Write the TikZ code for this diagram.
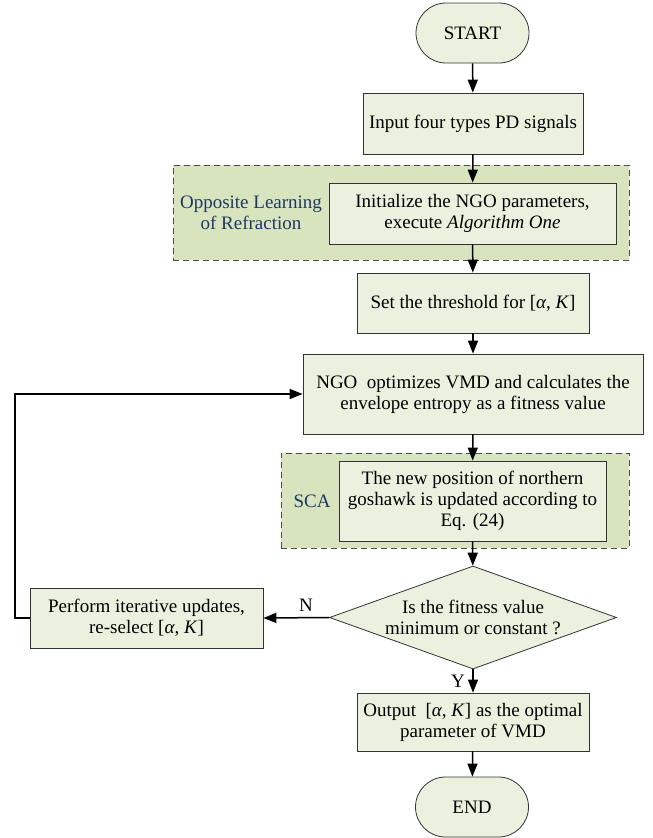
\documentclass[tikz,border=0pt]{standalone}
\usepackage{fontspec}
\setmainfont{Liberation Serif}
\usetikzlibrary{shapes.geometric,arrows.meta}
\definecolor{boxfill}{RGB}{235,241,222}
\definecolor{regionfill}{RGB}{215,228,189}
\definecolor{regiontext}{RGB}{31,56,100}

\begin{document}
\begin{tikzpicture}[
    x = 1pt, y = -1pt,
    every node/.style = {font = \fontsize{19}{21}\selectfont, align = center},
    process/.style = {draw = black!80, fill = boxfill, line width = 0.8pt, inner sep = 0pt},
    terminal/.style = {process, rounded corners = 30pt, minimum width = 113pt, minimum height = 60pt},
    decision/.style = {process, diamond, minimum width = 287pt, minimum height = 103pt},
    region/.style = {draw = black!70, fill = regionfill, line width = 0.8pt,
        dash pattern = on 6pt off 4pt, inner sep = 0pt},
    regionlabel/.style = {text = regiontext},
    flow/.style = {line width = 1.5pt, -{Triangle[length = 13pt, width = 10pt]}}]

\useasboundingbox (0,0) rectangle (653,838);

% dashed groups
\node[region, minimum width = 456pt, minimum height = 95pt] (olr) at (401,212.5) {};
\node[region, minimum width = 348pt, minimum height = 95pt] (sca) at (455,500.5) {};
\node[regionlabel] (olrtext) at (251,212.5) {Opposite Learning\\of Refraction};
\node[regionlabel] (scatext) at (312,501) {SCA};

% main flow
\node[terminal] (start) at (472.5,33) {START};
\node[process, minimum width = 220pt, minimum height = 61pt] (input) at (473,123.5)
    {Input four types PD signals};
\node[process, minimum width = 287pt, minimum height = 61pt] (init) at (472.5,213.5)
    {Initialize the NGO parameters,\\execute \textit{Algorithm One}};
\node[process, minimum width = 232pt, minimum height = 60pt] (thresh) at (473,303)
    {Set the threshold for [\textit{α}, \textit{K}]};
\node[process, minimum width = 340pt, minimum height = 80pt] (ngo) at (473,394)
    {NGO~ optimizes VMD and calculates the\\envelope entropy as a fitness value};
\node[process, minimum width = 267pt, minimum height = 80pt] (update) at (472.5,501)
    {The new position of northern\\goshawk is updated according to\\Eq. (24)};
\node[decision] (dec) at (473,617.5) {};
\node (dectext) at (dec.center) {Is the fitness value\\minimum or constant ?};
\node[process, minimum width = 233pt, minimum height = 60pt] (perform) at (146.5,618)
    {Perform iterative updates,\\re-select [\textit{α}, \textit{K}]};
\node[process, minimum width = 232pt, minimum height = 58pt] (output) at (473,722)
    {Output~ [\textit{α}, \textit{K}] as the optimal\\parameter of VMD};
\node[terminal] (end) at (472,807) {END};
\coordinate (loop) at (15,618);

% connectors
\draw[flow] (start) -- (input);
\draw[flow] (input) -- (init);
\draw[flow] (init) -- (thresh);
\draw[flow] (thresh) -- (ngo);
\draw[flow] (ngo) -- (update);
\draw[flow] (update) -- (dec);
\draw[flow] (dec.west) -- (perform.east) node[pos = 0.35, above = 2pt] (nlabel) {N};
\draw[flow] (dec.south) -- (output) node[pos = 0.5, left = 4pt] (ylabel) {Y};
\draw[flow] (output) -- (end);
\draw[flow] (perform.west) -- (loop) |- (ngo.west);
\end{tikzpicture}
\end{document}
